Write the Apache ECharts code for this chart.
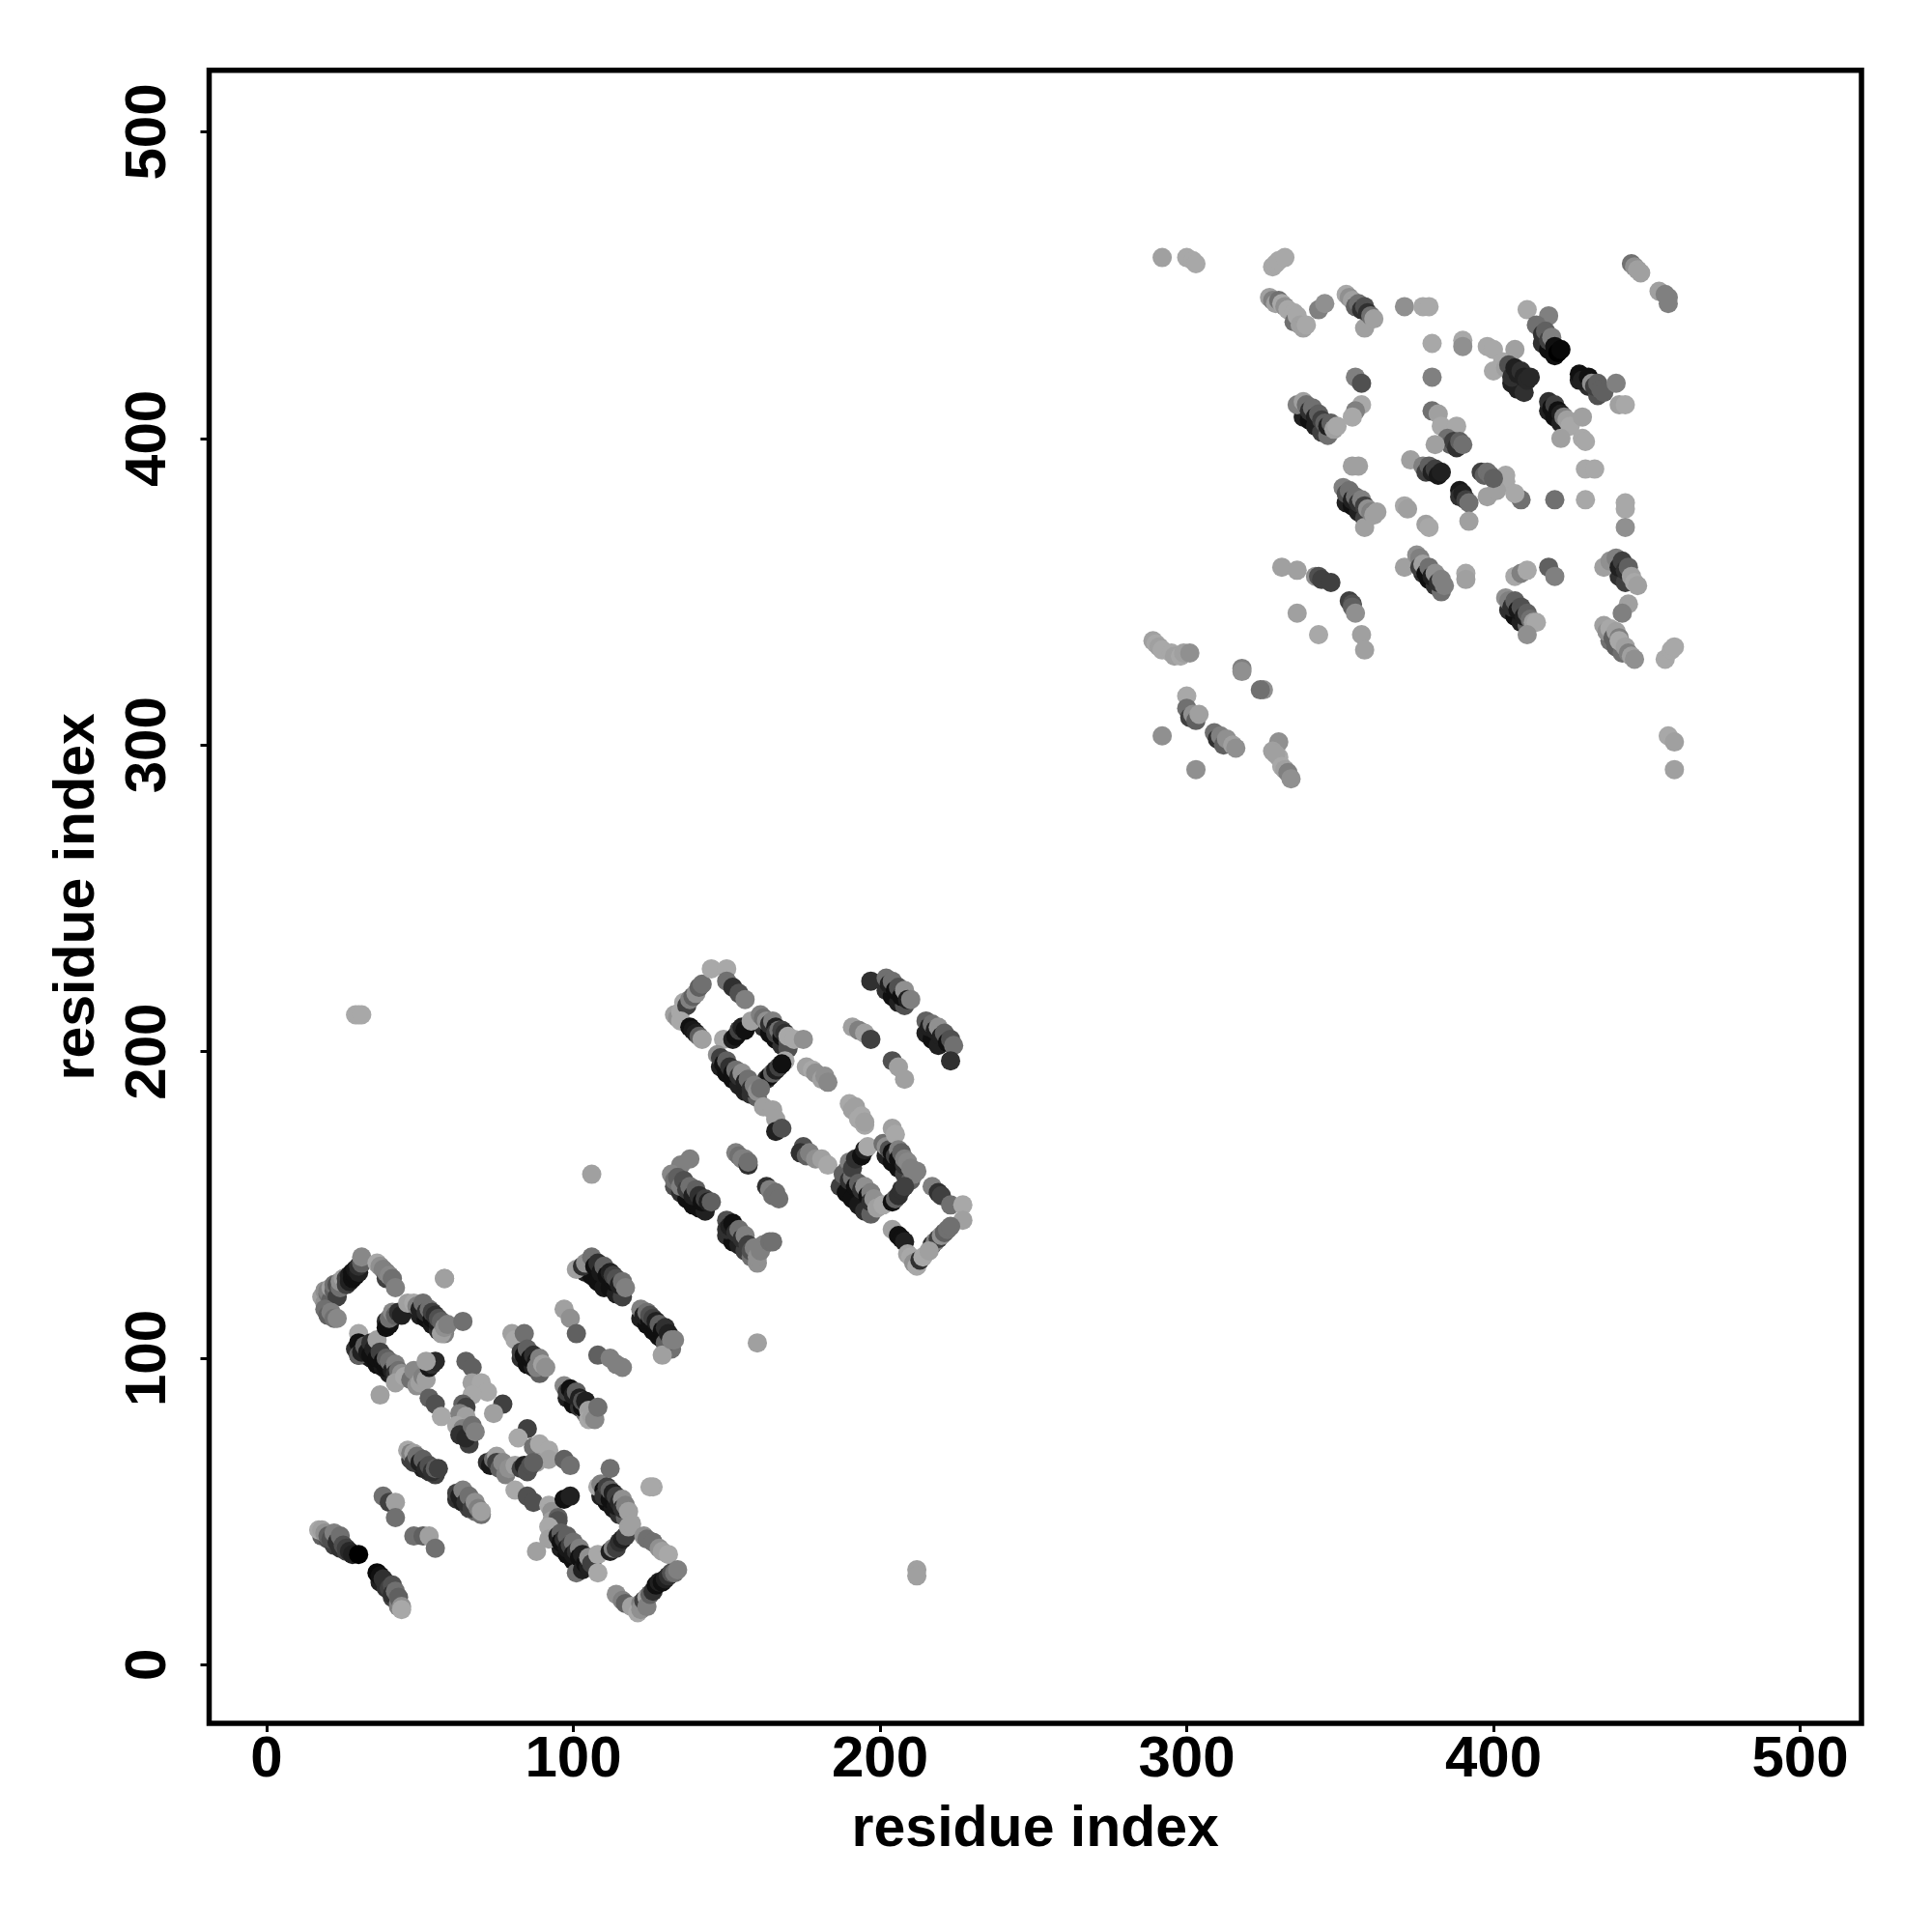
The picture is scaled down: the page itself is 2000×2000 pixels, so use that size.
<!DOCTYPE html>
<html><head><meta charset="utf-8">
<style>html,body{margin:0;padding:0;background:#fff}#c{width:2000px;height:2000px}</style>
<script src="https://cdn.jsdelivr.net/npm/echarts@6/dist/echarts.min.js"></script>
</head><body><div id="c"></div>
<script>
// each entry: [residue x, residue y, grey level]
const lowerRows = [
[30,101,16],[32,101,16],[34,100,24],[36,98,16],[38,97,24],[40,95,32],[42,94,48],
[50,114,32],[52,113,16],[54,111,24],[56,109,48],[58,108,128],
[47,67,64],[49,66,32],[51,64,32],[53,63,48],[55,62,64],
[62,54,48],[64,53,32],[66,51,64],[68,50,112],
[18,42,96],[20,41,80],[22,39,64],[24,38,48],[26,37,64],
[37,27,32],[39,25,48],[41,22,64],[43,19,128],
[94,41,64],[96,38,32],[98,36,16],[100,34,16],[102,32,16],
[109,55,32],[111,53,16],[113,51,24],[115,49,48],[117,48,96],
[104,128,32],[106,127,16],[108,125,16],[110,123,24],[112,123,16],[114,121,32],[116,120,64],
[122,113,32],[124,111,16],[126,109,16],[128,107,16],[130,105,48],[132,103,112],
[83,100,48],[85,98,16],[87,97,32],[89,95,96],
[98,87,32],[100,85,16],[102,84,48],[104,82,112],
[148,195,32],[150,193,16],[152,191,16],[154,189,32],[156,187,32],[158,186,48],[160,185,96],
[162,208,48],[164,206,16],[166,204,16],[168,202,48],[170,201,80],
[187,156,64],[189,154,16],[191,152,16],[193,150,24],[195,148,48],[197,147,96],
[202,166,32],[204,164,16],[206,162,16],[208,160,64],[210,158,96],
[133,156,80],[135,154,48],[137,152,16],[139,150,16],[141,149,16],[143,148,32],
[150,140,48],[152,138,16],[154,137,32],[156,135,64],[158,133,112],[160,131,144],
[202,220,48],[204,218,16],[206,216,32],[208,215,80],
[215,206,32],[217,204,16],[219,202,32],
[406,418,32],[408,416,32],[410,415,48],
[416,431,48],[418,429,16],[420,427,16],
[428,419,32],[431,417,48],[434,414,80],
[418,409,32],[420,407,16],[422,405,32],
[338,407,32],[340,406,16],[342,404,32],[344,402,64],[346,401,112],
[352,379,32],[354,378,16],[356,376,32],[358,374,64],
[377,356,48],[379,354,16],[381,352,48],[383,350,112],
[405,344,48],[407,342,16],[409,340,32],[411,339,96],
[441,355,48],[443,353,64],
[438,334,112],[440,332,96],[442,330,112]
];
const domainOneLeft = [
[18,120,160],[19,122,144],[19,118,144],[20,121,112],[20,122,128],[21,119,96],[21,123,160],[22,122,96],[22,124,112],[23,120,64],[23,124,80],[24,123,112],[24,125,144],[25,126,160],[26,124,64],[26,126,64],
[27,125,32],[27,127,32],[28,126,16],[28,128,16],[29,127,16],[29,129,24],[30,128,32],[30,130,48],[31,131,96],[31,133,136],
[36,131,168],[37,130,144],[38,129,128],[39,126,64],[39,128,128],[40,127,136],[41,126,112],[42,123,128],
[19,116,112],[20,114,96],[21,115,128],[22,113,112],[23,113,136],
[30,108,168],[29,103,48],[30,105,16],[30,101,96],[31,102,32],[32,104,96],[33,102,24],[34,105,48],[34,101,16],[35,103,32],[36,106,160],[36,100,16],[37,102,64],[38,99,16],[39,97,16],[39,100,96],[40,97,16],[40,99,112],[41,96,32],[42,98,128],[42,95,48],[43,96,112],[44,95,144],
[37,88,160],[42,92,160],[45,94,168],[47,93,112],[48,96,136],[49,91,144],[50,92,160],[51,94,128],[52,93,160],
[39,112,48],[39,110,16],[40,111,16],[40,113,112],[41,115,136],[42,114,96],[43,115,48],[44,114,32],[46,118,160],
[48,118,168],[49,117,128],[50,116,32],[51,118,112],[52,115,48],[53,116,112],[54,113,16],[54,115,64],[55,114,48],[56,111,32],[56,113,80],[57,108,160],[57,112,96],[58,110,144],[59,111,128],[64,112,112],
[53,97,24],[54,98,48],[55,99,40],[52,99,160],
[53,87,96],[55,85,80],[57,81,168],[58,126,160],
[65,99,96],[67,97,96],[67,92,160],[70,92,168],[72,89,168],[77,85,64],[74,82,160],
[67,88,168],[64,85,96],[65,84,64],[63,82,128],[65,81,160],[62,78,168],[64,77,128],[63,75,48],[66,72,64],[65,74,40],[67,78,112],[68,76,128]
];
const domainOneMiddle = [
[85,77,64],[82,74,168],[87,71,112],[89,72,168],[92,70,168],[88,66,160],[92,67,160],[97,67,96],[99,65,112],
[72,66,48],[73,65,24],[74,67,112],[75,68,160],[75,66,64],[76,64,96],[77,66,136],[78,62,128],[79,64,144],[81,65,160],[83,64,64],[84,65,32],[85,63,80],[86,65,80],[87,66,96],
[81,57,168],[85,55,80],[87,53,80],[92,52,168],[93,50,144],[93,47,160],[95,48,96],[97,54,16],[99,55,32],[95,47,80],[92,45,168],[92,41,160],[88,37,160],
[95,42,32],[96,43,96],[96,40,16],[97,41,48],[98,42,96],[98,38,24],[99,39,64],[100,40,112],[100,36,24],[101,37,48],[101,30,112],[102,38,128],[102,35,16],[103,36,32],[103,31,32],[104,33,16],[105,32,32],[105,35,144],[106,33,64],[108,30,168],[108,36,168],
[112,37,32],[113,38,128],[114,38,64],[115,40,48],[116,41,32],[117,42,64],[118,45,160],
[108,58,168],[109,59,128],[110,57,16],[110,55,48],[111,58,64],[112,64,112],[112,54,16],[112,57,96],[113,56,32],[114,52,24],[114,55,64],[115,53,40],[116,54,144],[116,51,48],[117,52,128],[118,50,160],[119,46,160],[126,58,168],
[123,42,144],[124,41,112],[126,40,112],[128,38,144],[129,37,160],[131,36,168],
[114,23,144],[116,21,128],[117,20,96],[119,19,160],[121,17,168],[122,20,128],[122,18,144],[123,21,64],[124,22,160],[124,19,128],[125,23,96],[126,24,48],[127,26,16],[128,27,32],[129,27,16],[130,28,32],[131,29,48],[132,30,80],[133,30,112],[134,31,128],
[46,70,168],[47,69,128],[48,69,160],[48,66,64],[49,68,112],[50,66,32],[51,67,96],[52,64,40],[53,65,80],[54,63,48],[55,64,96],[56,64,64],
[62,56,64],[63,55,32],[64,57,128],[65,53,48],[66,55,112],[67,51,64],[68,53,144],[69,51,128],[70,49,112],[70,50,160],
[38,55,112],[40,53,64],[42,53,160],[42,48,112],[48,42,112],[51,42,96],[53,42,160],[55,38,112],
[17,44,168],[18,44,160],[19,43,144],[20,42,96],[21,41,80],[22,43,128],[23,40,48],[24,42,112],[25,39,80],[26,38,64],[27,37,40],[28,36,32],[30,36,0],
[36,30,8],[37,29,16],[38,28,48],[40,25,64],[41,26,80],[41,23,48],[42,24,112],[43,20,128],[43,22,96],[44,19,144],[44,18,168]
];
const domainOneRight = [
[101,129,160],[103,130,48],[104,131,144],[106,133,112],[107,130,16],[108,131,48],[109,128,24],[110,130,96],[111,127,16],[112,128,32],[113,125,16],[113,127,64],[114,126,80],[115,124,32],[116,125,112],[117,123,128],
[122,116,128],[123,114,32],[124,115,112],[125,112,16],[125,114,80],[126,113,64],[127,110,16],[127,112,32],[128,111,96],[129,109,16],[130,110,48],[130,105,96],[129,101,160],[131,108,32],[132,106,128],[133,106,128],
[97,116,160],[99,113,144],[101,108,96],[108,101,96],[112,100,128],[114,98,128],[116,97,128],
[80,108,160],[81,106,168],[84,108,112],[83,102,64],[84,101,16],[85,103,96],[86,100,16],[87,101,48],[88,99,24],[88,97,128],[89,100,128],[90,98,160],[91,97,144],
[97,91,136],[98,89,64],[99,90,16],[100,88,32],[101,89,96],[102,87,32],[103,84,16],[103,86,80],[104,86,32],[105,83,160],[105,80,168],[106,81,160],[107,80,136],[108,84,112],
[106,160,160],[58,126,160]
];
const domainTwoLeft = [
[133,212,160],[134,211,144],[135,213,168],[136,216,168],[137,215,64],[138,217,128],[139,218,96],[140,219,144],[141,221,96],[142,222,112],[145,227,168],[150,227,168],
[135,210,168],[138,208,16],[139,207,24],[140,206,32],[141,205,96],[142,204,160],
[150,223,112],[152,221,48],[154,219,80],[156,217,128],
[149,204,168],[152,204,32],[153,205,16],[154,207,64],[155,208,32],[156,207,16],[158,210,160],
[161,212,128],[162,211,112],[163,210,144],[164,209,48],[165,210,128],[166,208,32],[166,206,64],[167,207,112],[168,205,16],[168,207,64],[169,206,48],[170,203,80],[170,205,168],[172,204,168],[175,204,144],[169,197,168],
[163,191,48],[164,192,16],[165,193,96],[166,194,32],[167,195,64],[168,196,16],
[147,199,144],[148,198,64],[149,196,16],[150,197,96],[151,195,48],[152,193,16],[153,194,112],[154,192,48],[155,193,144],[156,190,32],[157,191,112],[158,188,48],[159,189,128],[160,187,144],[161,188,112],
[162,182,160],[165,181,160],[166,178,160],[166,174,32],[168,175,80],
[175,169,80],[174,167,48],[176,166,96],[177,167,128],[179,165,144],[181,165,160],[183,163,168],
[176,195,160],[178,194,168],[179,193,144],[181,191,160],[182,192,144],[183,190,136],
[190,183,168],[191,181,160],[192,182,160],[193,178,168],[194,179,168],[195,176,168],[195,177,160],
[138,165,128],[135,163,128],[132,160,136],[133,158,112],[134,159,96],[135,156,128],[136,158,80],[137,155,64],[138,156,112],[139,153,32],[140,155,96],[141,153,48],[142,151,16],[143,152,64],[144,151,32],[145,151,96],
[153,167,128],[154,166,112],[155,165,128],[156,165,128],[157,163,48],[157,164,112],
[163,156,48],[164,155,128],[165,153,112],[166,154,112],[167,152,112],
[150,145,80],[150,142,48],[151,143,32],[152,144,16],[153,141,48],[154,142,112],[155,139,48],[156,140,128],[157,137,64],[158,135,80],[159,136,128],[160,133,144],[161,135,128],[162,137,128],[164,138,112],[165,138,112]
];
const domainTwoRight = [
[189,161,128],[188,160,96],[190,164,128],[190,158,48],[191,159,112],[191,162,64],[192,156,16],[192,165,48],[193,157,96],[194,155,48],[194,166,16],[195,156,144],[195,168,32],[196,153,16],[197,154,128],[197,151,48],[198,152,144],[199,149,160],[196,169,168],[201,150,168],
[201,170,112],[202,169,144],[203,168,80],[204,175,160],[205,173,168],[204,167,16],[205,166,64],[206,168,128],[206,165,16],[207,167,96],[208,163,48],[208,165,128],[209,164,136],[210,162,128],[211,160,128],[212,161,128],
[204,151,16],[205,152,96],[206,153,48],[207,155,48],[208,156,64],
[217,156,128],[219,154,48],[220,153,64],[223,150,112],[227,150,168],[227,145,160],
[217,137,48],[218,138,128],[219,139,64],[220,140,144],[221,141,96],[222,142,112],[223,143,112],
[204,142,160],[206,140,16],[207,139,16],[208,138,32],[209,134,160],[210,133,168],[211,131,144],[212,130,168],[213,132,48],[214,133,168],[216,135,160],
[197,223,48],[202,224,112],[203,222,32],[204,223,112],[205,220,16],[206,221,80],[207,218,16],[208,220,144],[209,217,32],[210,217,128],
[215,210,96],[216,208,32],[217,209,112],[218,207,32],[219,208,144],[220,205,32],[221,206,96],[222,203,16],[223,204,80],[224,202,112],[223,197,48],
[191,208,160],[193,207,128],[195,206,160],[197,204,64],[204,197,80],[206,195,160],[208,191,160],
[160,105,160],[29,212,168],[30,212,168],[31,212,168],[212,31,160],[212,29,160],[125,58,168]
];
const domainThreeUpper = [
[292,459,160],[300,459,168],[302,458,168],[303,457,168],[328,456,168],[329,457,168],[330,458,168],[332,459,168],
[327,446,160],[328,445,128],[329,444,160],[330,445,112],[331,444,168],[332,443,144],[333,442,168],[335,441,168],[335,438,112],[336,440,168],[337,437,160],[338,436,160],[339,437,168],
[343,442,128],[345,444,144],
[352,447,168],[353,446,144],[354,445,160],[355,443,96],[356,444,112],[357,442,48],[358,443,80],[358,436,160],[359,441,48],[360,440,112],[361,439,160],
[371,443,144],[377,443,168],[379,443,168],
[380,431,168],[390,432,168],[390,430,144],[398,430,168],[400,429,168],[403,425,168],[400,422,168],[407,429,160],
[404,423,160],[405,424,80],[406,420,48],[407,423,32],[408,421,32],[409,422,48],[410,420,32],[411,419,40],[412,420,40],
[411,442,168],[418,440,128],[414,437,112],[416,434,48],[417,435,96],[418,432,64],[419,433,128],[420,430,16],[421,428,0],[422,429,8],
[428,421,16],[429,419,32],[431,420,16],[432,418,144],[433,417,64],[434,418,96],[435,416,96],[436,415,96],[440,418,128],[441,411,160],[443,411,168],
[418,412,48],[419,410,16],[420,411,64],[421,409,16],[422,408,32],[423,407,128],[424,406,160],[425,404,168],[429,407,160],[422,400,160],[429,400,168],[430,399,168],
[430,390,168],[433,390,168],[430,380,168],[420,380,112],[409,380,112],[404,388,168],[404,386,168],[398,381,160],[407,382,168],[401,383,160],
[355,420,128],[357,418,80],[380,420,128],
[336,411,128],[338,412,160],[339,411,112],[340,409,48],[341,410,112],[342,407,32],[343,408,96],[344,406,64],[345,405,96],[346,404,32],[347,405,96],[348,403,160],[349,404,168],[357,411,168],[355,409,128],[354,407,168],
[380,409,112],[382,408,160],[383,404,168],[388,404,168],[385,400,112],[386,398,96],[387,399,64],[388,397,48],[389,399,96],[390,398,112],[381,398,160],
[373,393,160],[377,391,128],[378,389,64],[379,391,96],[380,389,32],[381,390,64],[382,388,24],[383,389,32],
[396,389,64],[397,388,96],[398,389,112],[399,388,112],[400,387,96],
[389,383,24],[389,381,48],[390,382,32],[391,380,64],[392,379,112],[392,373,160],
[354,391,160],[356,391,160]
];
const domainThreeLower = [
[351,384,128],[352,382,80],[353,383,112],[354,380,32],[355,381,112],[356,379,48],[357,380,128],[358,378,64],[359,377,144],[358,371,160],[360,376,128],[361,375,160],[362,376,160],
[371,378,168],[372,377,160],[378,372,160],[379,371,168],
[443,379,168],[443,377,168],[443,371,144],
[331,358,160],[336,357,160],[342,355,144],[343,355,80],[344,354,64],[347,353,64],
[353,347,64],[354,346,80],[354,345,96],[355,343,144],[336,343,160],[343,336,168],[357,336,160],[358,331,160],
[371,358,160],[375,362,144],[376,361,128],[376,358,64],[377,359,160],[378,356,16],[379,358,112],[380,355,32],[381,356,144],[382,353,48],[383,354,128],[384,352,128],
[391,356,168],[391,354,160],
[404,348,144],[405,347,128],[406,345,48],[407,347,96],[408,344,24],[409,345,80],[410,342,32],[411,343,96],[412,341,112],[413,340,160],[414,340,168],[411,336,144],
[407,355,168],[409,356,128],[411,357,168],[418,358,96],[420,355,128],
[436,358,160],[438,360,144],[440,361,128],[441,358,32],[442,360,64],[443,357,48],[444,358,96],[445,355,160],[446,353,168],[447,352,160],
[444,346,160],[442,343,128],
[436,339,160],[437,337,144],[438,338,168],[439,335,96],[440,337,160],[441,335,128],[441,334,168],[443,332,160],[444,330,128],[445,329,160],[446,328,144],
[456,328,168],[458,331,168],[459,332,168],
[457,303,168],[459,301,160],[459,292,160],
[445,457,112],[446,456,144],[447,455,160],[448,454,160],[454,448,160],[456,447,128],[457,446,128],[457,444,128],
[289,334,160],[290,333,168],[291,332,160],[292,331,168],[295,330,168],[296,329,160],[298,329,168],[299,330,160],[301,330,144],
[318,325,128],[318,324,144],[325,318,144],[324,318,112],
[300,316,168],[300,312,112],[301,309,64],[302,310,144],[303,308,96],[304,310,160],
[309,304,112],[310,302,48],[311,303,128],[312,300,96],[313,302,144],[315,300,160],[316,299,144],
[292,303,144],[303,292,144],
[330,301,144],[328,298,160],[330,296,168],[329,297,160],[331,293,168],[332,292,160],[333,291,128],[334,289,144]
];
const tickLabels = [0,100,200,300,400,500];
const axisTitle = 'residue index';

const contacts = [].concat(lowerRows, domainOneLeft, domainOneMiddle, domainOneRight, domainTwoLeft, domainTwoRight, domainThreeUpper, domainThreeLower);
const fontFamily = '"Liberation Sans", Arial, sans-serif';
const labelStyle = {show:true, color:'#000', fontFamily, fontWeight:'bold', fontSize:60, customValues:tickLabels};
const tick = {show:true, length:9, lineStyle:{color:'#000', width:3}, customValues:tickLabels};
const chart = echarts.init(document.getElementById('c'), null, {renderer:'canvas', width:2000, height:2000});
chart.setOption({
  animation:false,
  backgroundColor:'#fff',
  grid:{left:216.5, right:73, top:72.7, bottom:216, show:true, borderColor:'#000', borderWidth:5.5, backgroundColor:'#fff'},
  xAxis:{type:'value', min:-18.74, max:520, splitLine:{show:false}, axisLine:{show:false, onZero:false},
    axisTick:tick, axisLabel:Object.assign({margin:8, hideOverlap:false}, labelStyle),
    name:axisTitle, nameLocation:'middle', nameGap:81,
    nameTextStyle:{color:'#000', fontFamily, fontWeight:'bold', fontSize:59}},
  yAxis:{type:'value', min:-19.1, max:520.1, splitLine:{show:false}, axisLine:{show:false, onZero:false},
    axisTick:tick, axisLabel:Object.assign({margin:32, rotate:90, hideOverlap:false}, labelStyle),
    name:axisTitle, nameLocation:'middle', nameGap:106, nameRotate:90,
    nameTextStyle:{color:'#000', fontFamily, fontWeight:'bold', fontSize:59}},
  series:[{type:'scatter', symbol:'circle', symbolSize:20, data:contacts, clip:false,
    itemStyle:{opacity:1, color:p=>{const g=p.value[2];return 'rgb('+g+','+g+','+g+')';}},
    silent:true, progressive:0, large:false}]
});
</script></body></html>
